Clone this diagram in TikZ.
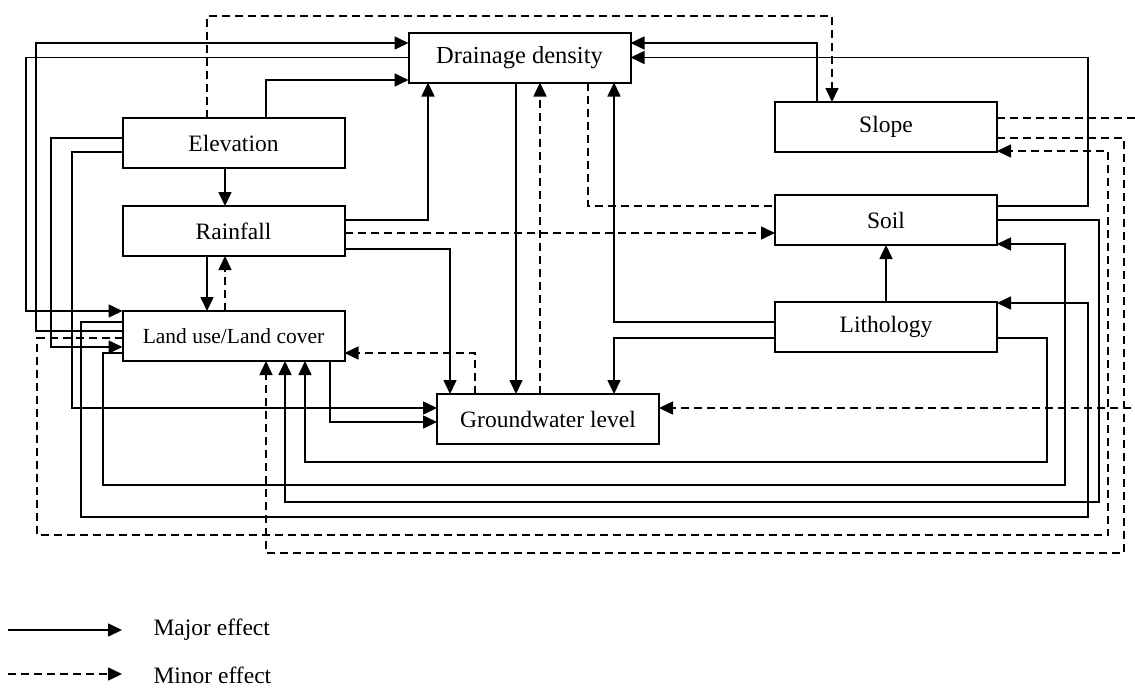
\documentclass[tikz,border=0pt]{standalone}
\usepackage{fontspec}
\setmainfont{Liberation Serif}
\usetikzlibrary{arrows.meta}

\begin{document}
\begin{tikzpicture}[
    x=1pt, y=-1pt,
    factor/.style={rectangle, draw, line width=2pt, minimum width=222pt, minimum height=50pt, inner sep=0pt, outer sep=0pt, font=\fontsize{23.5}{28}\selectfont},
    major/.style={line width=1.6pt, -{Triangle[length=14pt, width=13pt]}},
    minor/.style={major, dash pattern=on 8pt off 5pt},
    link/.style={line width=1.6pt},
    minlink/.style={link, dash pattern=on 8pt off 5pt},
    legend/.style={anchor=west, font=\fontsize{23.5}{28}\selectfont}
]
\useasboundingbox (0,0) rectangle (1135,688);

\node[factor, font=\fontsize{24.5}{29}\selectfont] (dd) at (519.5,57.5) {Drainage density};
\node[factor] (elev) at (233.5,143) {Elevation};
\node[factor] (rain) at (233.5,231) {Rainfall};
\node[factor, font=\fontsize{21.5}{26}\selectfont] (lulc) at (233.5,336) {Land use/Land cover};
\node[factor] (gw) at (548,419) {Groundwater level};
\node[factor] (slope) at (886,127) {Slope};
\node[factor] (soil) at (886,220) {Soil};
\node[factor] (litho) at (886,327) {Lithology};

% links between the central column
\draw[major] (elev.south -| 225,0) -- (rain.north -| 225,0);
\draw[major] (rain.south -| 207,0) -- (lulc.north -| 207,0);
\draw[minor] (lulc.north -| 225,0) -- (rain.south -| 225,0);
\draw[major] (elev.north -| 266,0) |- (dd.west |- 0,80);
\draw[major] (rain.east |- 0,220) -| (dd.south -| 428,0);
\draw[minor] (rain.east |- 0,233) -- (soil.west |- 0,233);
\draw[major] (rain.east |- 0,249) -| (gw.north -| 450,0);
\draw[major] (lulc.south -| 330,0) |- (gw.west |- 0,422);
\draw[minor] (gw.north -| 475,0) |- (lulc.east |- 0,353);
\draw[major] (dd.south -| 516,0) -- (gw.north -| 516,0);
\draw[minor] (gw.north -| 540,0) -- (dd.south -| 540,0);
\draw[minlink] (dd.south -| 588,0) |- (soil.west |- 0,206);
\draw[major] (litho.west |- 0,322) -| (dd.south -| 614,0);
\draw[major] (litho.west |- 0,338) -| (gw.north -| 614,0);
\draw[major] (litho.north) -- (soil.south);

% links round the left side
\draw[major] (dd.west) -| (26,311) -- (lulc.west |- 0,311);
\draw[major] (lulc.west |- 0,331) -| (36,43) -- (dd.west |- 0,43);
\draw[major] (elev.west |- 0,138) -| (51,347) -- (lulc.west |- 0,347);
\draw[major] (elev.west |- 0,152) -| (72,408) -- (gw.west |- 0,408);

% links round the top and the right side
\draw[minor] (elev.north -| 207,0) |- (832,16) -- (slope.north -| 832,0);
\draw[major] (slope.north -| 817,0) |- (dd.east |- 0,43);
\draw[major] (soil.east |- 0,206) -| (1088,57.5) -- (dd.east);
\draw[minor] (slope.east |- 0,118) -| (1140,408) -- (gw.east |- 0,408);

% links round the bottom
\draw[major] (litho.east |- 0,338) -| (1047,462) -| (lulc.south -| 305,0);
\draw[major] (lulc.west |- 0,353) -| (103,485) -| (1065,244) -- (soil.east |- 0,244);
\draw[major] (soil.east |- 0,220) -| (1099,502) -| (lulc.south -| 285,0);
\draw[major] (lulc.west |- 0,322) -| (81,517) -| (1088,303) -- (litho.east |- 0,303);
\draw[minor] (lulc.west |- 0,338) -| (37,535) -| (1108,151) -- (slope.east |- 0,151);
\draw[minor] (slope.east |- 0,138) -| (1124,553) -| (lulc.south -| 266,0);

% legend
\node[legend] (majtxt) at (150,630) {Major effect};
\node[legend] (mintxt) at (150,675) {Minor effect};
\coordinate (majstart) at (8,630);
\coordinate (minstart) at (8,674);
\draw[major] (majstart) -- ([xshift=-28pt]majtxt.west);
\draw[minor] (minstart) -- ([xshift=-28pt]mintxt.west |- minstart);

\end{tikzpicture}
\end{document}
